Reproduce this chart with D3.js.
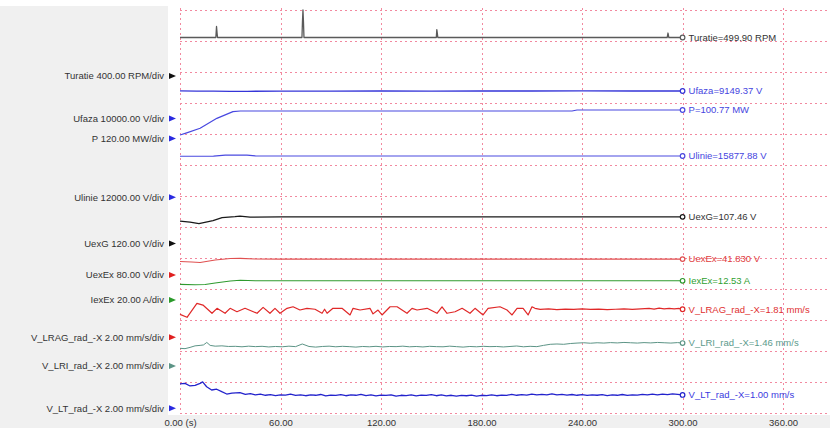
<!DOCTYPE html>
<html><head><meta charset="utf-8">
<script src="https://cdn.jsdelivr.net/npm/d3@7"></script>
<style>body{margin:0;background:#fff;} svg{display:block;font-family:"Liberation Sans",Arial,sans-serif;}</style>
</head><body><svg id="c" width="830" height="428"></svg>
<script>
// ---- data (time in s, value in channel units) ----
const timeTicks = [0, 60, 120, 180, 240, 300, 360];

const turatie = [[0,497],[21.4,497],[21.8,640],[22.1,560],[22.4,497],[72.8,497],[73.1,700],[73.4,852],[73.7,700],[74.0,497],[153.0,497],[153.3,600],[153.6,550],[153.9,497],[290.8,497],[291.3,555],[291.8,497],[300,497]];
const ufaza = [[0,8900],[10,8850],[20,8800],[30,8760],[40,8780],[60,8820],[90,8850],[120,8870],[150,8860],[180,8870],[210,8870],[240,8880],[270,8870],[300,8870]];
const pPower = [[0,13.5],[4,22],[12,39.5],[22,78],[31.6,104],[36,106.5],[60,106.5],[120,106.5],[180,106.5],[234,106.5],[237,110.3],[300,110.3]];
const ulinie = [[0,15900],[20,15950],[27,16300],[33,16380],[40,16300],[45,16000],[60,15990],[120,15990],[180,15990],[240,15990],[300,15990]];
const uexG = [[0,86.3],[6,82.5],[11.3,76.6],[15.5,82.5],[19.7,88.3],[25.1,99.9],[32.8,103.7],[35.8,105.7],[41.8,101.8],[60,102.5],[120,102.5],[180,102.8],[240,102.5],[300,102.8]];
const uexEx = [[0,34.8],[7,33.5],[12,32.3],[21,38.7],[30,42.6],[36,43.1],[45,41.3],[60,41.2],[120,41.2],[180,41.2],[240,41.2],[300,41.2]];
const iexEx = [[0,10.1],[9,9.8],[15,10.0],[21,11.0],[30,12.3],[36,12.7],[45,12.4],[120,12.4],[180,12.4],[240,12.4],[300,12.4]];
const vLRAG = [[0,1.48],[4.2,1.29],[10.1,2.19],[13.7,2.08],[19.1,1.55],[22.1,1.87],[26.9,1.55],[29.9,1.87],[34.0,1.65],[38.8,1.87],[46.0,1.55],[49.6,1.93],[53.7,1.55],[56.7,1.87],[59.7,1.55],[63.9,1.87],[67.5,1.97],[71.6,1.76],[75.8,1.87],[80.6,1.81],[84.8,1.55],[86.3,1.81],[87.8,1.55],[91.3,1.87],[96.7,1.87],[101.5,1.44],[103.3,1.87],[107.5,1.76],[113.4,1.87],[115.2,1.51],[118.2,1.76],[120.6,1.44],[125.4,1.97],[129.6,1.97],[135.5,1.55],[138.5,1.87],[141.5,1.76],[147.5,1.87],[153.4,1.55],[156.4,1.97],[159.4,1.55],[164.2,1.65],[168.4,1.87],[173.1,1.55],[176.1,1.87],[180.9,1.44],[183.9,1.87],[191.0,1.97],[195.2,1.76],[198.2,1.44],[201.2,1.87],[204.8,1.87],[207.8,1.44],[210.1,1.97],[211.9,1.87],[215,1.80],[220,1.83],[225,1.79],[230,1.82],[235,1.80],[240,1.83],[245,1.80],[250,1.82],[255,1.79],[260,1.81],[265,1.83],[270,1.80],[275,1.84],[280,1.86],[283,1.82],[286,1.88],[289,1.83],[292,1.87],[295,1.84],[298,1.86],[300,1.81]];
const vLRI = [[0,1.14],[3,1.12],[6,1.20],[9,1.30],[12,1.33],[14,1.36],[16,1.52],[18,1.33],[21,1.28],[25,1.30],[29,1.26],[33,1.27],[37,1.24],[41,1.28],[45,1.25],[49,1.27],[53,1.23],[57,1.26],[61,1.24],[65,1.28],[69,1.25],[73,1.42],[77,1.26],[81,1.22],[85,1.26],[89,1.28],[93,1.24],[97,1.27],[101,1.25],[105,1.22],[109,1.26],[113,1.24],[117,1.27],[121,1.23],[125,1.26],[129,1.25],[133,1.28],[137,1.24],[141,1.26],[145,1.23],[149,1.27],[153,1.25],[157,1.24],[161,1.28],[165,1.25],[169,1.22],[173,1.26],[177,1.24],[181,1.27],[185,1.25],[189,1.26],[193,1.23],[197,1.26],[201,1.29],[205,1.24],[209,1.27],[213,1.25],[217,1.33],[221,1.40],[225,1.42],[229,1.40],[233,1.45],[237,1.48],[241,1.50],[245,1.47],[249,1.50],[253,1.48],[257,1.51],[261,1.49],[265,1.52],[269,1.50],[273,1.48],[277,1.51],[281,1.49],[285,1.52],[289,1.50],[293,1.48],[297,1.51],[300,1.48]];
const vLT = [[0,1.57],[3,1.61],[6,1.44],[9,1.48],[12,1.61],[13.5,1.70],[15.9,1.39],[18.9,1.18],[21.9,1.23],[24.9,1.07],[27.9,0.92],[31,0.98],[35.8,1.01],[39,0.90],[42,0.94],[45,0.86],[48,0.91],[51,0.84],[54,0.88],[57,0.82],[60,0.87],[63,0.85],[66,0.92],[69,0.83],[72,0.87],[75,0.81],[78,0.86],[81,0.84],[84,0.89],[87,0.80],[90,0.85],[93,0.83],[96,0.88],[99,0.81],[102,0.86],[105,0.84],[108,0.90],[111,0.82],[114,0.86],[117,0.80],[120,0.85],[123,0.83],[126,0.87],[129,0.79],[132,0.84],[135,0.82],[138,0.86],[141,0.80],[144,0.85],[147,0.83],[150,0.88],[153,0.81],[156,0.86],[159,0.80],[162,0.84],[165,0.78],[168,0.83],[171,0.81],[174,0.85],[177,0.79],[180,0.84],[183,0.82],[186,0.87],[189,0.81],[192,0.85],[195,0.83],[198,0.90],[201,0.84],[204,0.88],[207,0.85],[210,0.92],[213,0.86],[216,0.90],[219,0.87],[222,0.93],[225,0.86],[228,0.90],[231,0.85],[234,0.89],[237,0.84],[240,0.88],[243,0.83],[246,0.87],[249,0.84],[252,0.88],[255,0.82],[258,0.86],[261,0.84],[264,0.89],[267,0.83],[270,0.87],[273,0.85],[276,0.90],[279,0.86],[282,0.91],[285,0.87],[288,0.92],[291,0.88],[294,0.93],[297,0.90],[300,0.86]];

const channelNames = ["Turatie","Ufaza","P","Ulinie","UexG","UexEx","IexEx","V_LRAG_rad_-X","V_LRI_rad_-X","V_LT_rad_-X"];
const scaleLabels = ["400.00 RPM/div","10000.00 V/div","120.00 MW/div","12000.00 V/div","120.00 V/div","80.00 V/div","20.00 A/div","2.00 mm/s/div","2.00 mm/s/div","2.00 mm/s/div"];
const perDiv = [400,10000,120,12000,120,80,20,2,2,2];
const zeroDiv = [10.87,9.5,8.855,6.958,5.47,4.45,3.645,2.442,1.516,0.152];
const endLabels = ["Turatie=499.90 RPM","Ufaza=9149.37 V","P=100.77 MW","Ulinie=15877.88 V","UexG=107.46 V","UexEx=41.830 V","IexEx=12.53 A","V_LRAG_rad_-X=1.81 mm/s","V_LRI_rad_-X=1.46 mm/s","V_LT_rad_-X=1.00 mm/s"];
const seriesData = [turatie,ufaza,pPower,ulinie,uexG,uexEx,iexEx,vLRAG,vLRI,vLT];

// ---- styles ----
const lineColors = ["#5a5a5a","#3535d8","#4848e0","#4a4ae0","#1a1a1a","#e05050","#2f9a2f","#e02828","#5c9486","#2323cc"];
const arrowColors = ["#111","#2a2ae0","#2a2ae0","#2a2ae0","#111","#e02020","#2a9a2a","#e02020","#5c9486","#2a2ae0"];
const textColors = ["#333","#4545e0","#4545e0","#4545e0","#333","#e04040","#30a030","#e03030","#5c9a8c","#3a3ae0"];
const lineWidths = [1.3,1.3,1.2,1.2,1.2,1.1,1.1,1.2,1.0,1.3];

const W=830,H=428;
const svg=d3.select('#c');
svg.append('rect').attr('width',W).attr('height',H).attr('fill','#fff');
svg.append('rect').attr('x',0).attr('y',6).attr('width',168).attr('height',H-6).attr('fill','#f0f0f0');
svg.append('rect').attr('x',0).attr('y',415).attr('width',W).attr('height',H-415).attr('fill','#f0f0f0');

const x=d3.scaleLinear().domain([0,388]).range([180,830]);
const yDiv=d3.scaleLinear().domain([0,13]).range([413,10]);

const grid=svg.append('g').attr('stroke','#f2899f').attr('stroke-dasharray','2,3').attr('stroke-width',1);
grid.selectAll('line.h').data(d3.range(0,14)).join('line').attr('class','h')
  .attr('x1',180).attr('x2',W).attr('y1',d=>Math.round(yDiv(d))+0.5).attr('y2',d=>Math.round(yDiv(d))+0.5);
grid.selectAll('line.v').data(timeTicks).join('line').attr('class','v')
  .attr('x1',d=>Math.round(x(d))+0.5).attr('x2',d=>Math.round(x(d))+0.5).attr('y1',8).attr('y2',413);

const axis=d3.axisBottom(x).tickValues(timeTicks).tickSize(0).tickPadding(6)
  .tickFormat(d=> d===0 ? "0.00 (s)" : d3.format(".2f")(d));
const ag=svg.append('g').attr('transform','translate(0,413)').call(axis);
ag.select('.domain').remove();
ag.selectAll('text').attr('font-size',9.5).attr('fill','#333').attr('font-family','"Liberation Sans",Arial,sans-serif');

channelNames.forEach((name,i)=>{
  const yv = v => yDiv(zeroDiv[i] + v/perDiv[i]);
  const line=d3.line().x(d=>x(d[0])).y(d=>yv(d[1]));
  svg.append('path').datum(seriesData[i]).attr('d',line)
    .attr('fill','none').attr('stroke',lineColors[i]).attr('stroke-width',lineWidths[i]).attr('stroke-linejoin','round');
  const last=seriesData[i][seriesData[i].length-1];
  const ly=yv(last[1]);
  svg.append('circle').attr('cx',x(last[0])).attr('cy',ly).attr('r',2.3)
    .attr('fill','#fff').attr('stroke',lineColors[i]).attr('stroke-width',1.2);
  svg.append('text').attr('x',x(last[0])+6).attr('y',ly+3.4).attr('font-size',9.5)
    .attr('fill',textColors[i]).text(endLabels[i]);
  const zy=yDiv(zeroDiv[i]);
  svg.append('text').attr('x',164).attr('y',zy+3.4).attr('font-size',9.5).attr('text-anchor','end')
    .attr('fill','#333').text(name+" "+scaleLabels[i]);
  svg.append('path').attr('d',`M169,${zy-3}L176,${zy}L169,${zy+3}Z`).attr('fill',arrowColors[i]);
});
</script></body></html>
